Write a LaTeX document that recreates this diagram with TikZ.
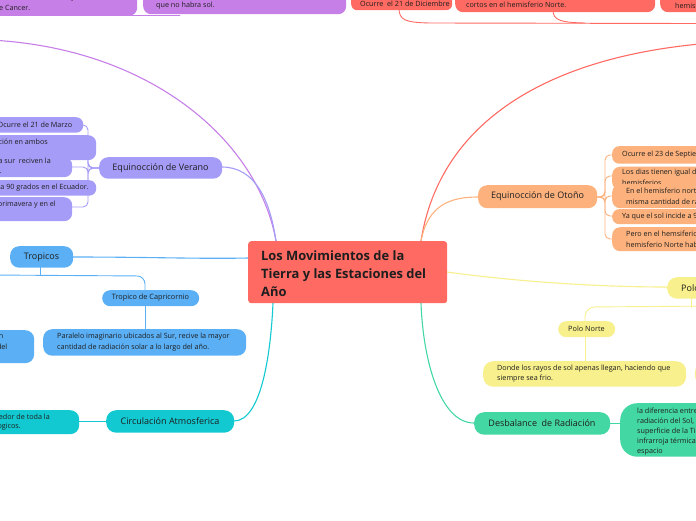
\documentclass[tikz,border=0pt]{standalone}
\usepackage{fontspec}
\setmainfont{Open Sans}
\definecolor{ink}{HTML}{1E1E1E}
\definecolor{cpurp}{HTML}{C77FE8}
\definecolor{clav}{HTML}{A59CF8}
\definecolor{cblue}{HTML}{5AAFF5}
\definecolor{cteal}{HTML}{12C9D1}
\definecolor{ccoral}{HTML}{FF6A62}
\definecolor{corange}{HTML}{FDB27D}
\definecolor{cyell}{HTML}{F7F08C}
\definecolor{cgreen}{HTML}{43D7A3}
\newcommand{\rbox}[7]{\node[fill=#2,rounded corners=#7,anchor=north west,inner sep=0pt,minimum width={(#5)-(#3)},minimum height={(#6)-(#4)}] (#1) at (#3,#4) {};}
\tikzset{
  txt/.style={inner sep=0pt,font=\fontsize{7.2}{8}\selectfont,text=ink,anchor=west},
  lbl/.style={inner sep=0pt,font=\fontsize{9}{10}\selectfont,text=ink},
  slbl/.style={inner sep=0pt,font=\fontsize{7.3}{8}\selectfont,text=ink},
  conn/.style={line width=1.1pt,line cap=round},
}
\begin{document}
\begin{tikzpicture}[x=1pt,y=-1pt]
\useasboundingbox (0,0) rectangle (696,520);
\clip (0,0) rectangle (696,520);
% ---------- connectors ----------
\coordinate (pl) at (-10,40);
\coordinate (ctop1) at (276,241);
\coordinate (ctop2) at (421,241);
\coordinate (cbot1) at (273,303);
\coordinate (cbot2) at (421,303);
\draw[conn,cpurp] (pl) .. controls (150,48) and (258,140) .. (ctop1);
\draw[conn,cpurp,line width=0.9pt] (-10,15.5) -- (180,15.5);
\draw[conn,clav] (222,167) .. controls (255,167) and (270,200) .. (ctop1);
\coordinate (rr) at (700,44);
\draw[conn,ccoral] (ctop2) .. controls (440,120) and (550,58) .. (rr);
\draw[conn,ccoral,line width=0.9pt] (399,8) .. controls (399,20) and (405,22.5) .. (430,23) -- (700,23.5);
\draw[conn,ccoral,line width=0.9pt] (553,10) .. controls (553,20) and (560,22.5) .. (585,23);
\draw[conn,corange] (ctop2) .. controls (428,205) and (450,197) .. (478,197);
\draw[conn,cblue] (73,257) .. controls (150,257) and (200,259) .. (248,258);
\draw[conn,cblue,line width=0.9pt] (40,267) -- (40,275);
\draw[conn,cblue,line width=0.9pt,rounded corners=8] (-10,275) -- (145,276) -- (145,291);
\draw[conn,cblue,line width=0.9pt] (145,306) -- (145,330);
\draw[conn,cteal] (234,421) .. controls (262,421) and (271,350) .. (cbot1);
\draw[conn,cteal,line width=0.9pt] (79,421) -- (106,421);
\draw[conn,cyell] (447,272) .. controls (520,282) and (600,287) .. (667,287);
\draw[conn,cyell,line width=0.9pt] (691,298) -- (691,307);
\draw[conn,cyell,line width=0.9pt,rounded corners=10] (720,306) -- (585,307) -- (585,322);
\draw[conn,cyell,line width=0.9pt] (585,337) -- (585,362);
\draw[conn,cgreen] (474,423) .. controls (440,423) and (423,360) .. (cbot2);
\draw[conn,cgreen,line width=0.9pt] (610,423) -- (621,423);
% Verano bracket
\foreach \yy/\xx in {125/83,144/96,167/72,188/96,207/72}{
  \draw[conn,clav,line width=0.9pt,rounded corners=5] (99,168) -- (88,168) -- (88,\yy) -- (\xx,\yy);
}
% Otono bracket
\foreach \yy in {155,176,196,216,239}{
  \draw[conn,corange,line width=0.9pt,rounded corners=5] (597,197) -- (605,197) -- (605,\yy) -- (613,\yy);
}
% ---------- purple top ----------
\rbox{pa}{cpurp}{-20}{-20}{137}{15.5}{8}
\node[txt,anchor=east] (pa1) at (107,-2) {donde se concentran todos los rayos del Sol};
\node[txt] (pa2) at (-5.5,8) {de Cancer.};
\rbox{pb}{cpurp}{143}{-20}{346}{14}{8}
\node[txt] (pb1) at (156,-5) {En el polo sur habra 6 meses de noche y}; 
\node[txt] (pb2) at (156,6) {que no habra sol.};
% ---------- coral top ----------
\rbox{ra}{ccoral}{351}{-20}{452}{10}{6}
\node[txt] (ra1) at (360,3.5) {Ocurre\ \ el 21 de Diciembre};
\rbox{rb}{ccoral}{455}{-20}{655}{12}{8}
\node[txt] (rb1) at (466,-6) {Los dias son mas largos y las noches mas};
\node[txt] (rb2) at (466,4.5) {cortos en el hemisferio Norte.};
\rbox{rc}{ccoral}{660}{-20}{740}{12}{8}
\node[txt] (rc1) at (675,5.5) {hemisferio Sur.};
% ---------- central ----------
\rbox{center}{ccoral}{248}{241}{447}{303}{3}
\node[inner sep=0pt,anchor=west,align=left,font=\fontsize{12.9}{18}\selectfont\bfseries,text=ink] (ctext) at (261,273.5) {Los Movimientos de la\\Tierra y las Estaciones del\\Año};
% ---------- Verano ----------
\rbox{ver}{clav}{99}{157}{222}{178.5}{9}
\node[lbl] (verl) at (160.5,168) {Equinocción de Verano};
\rbox{v1}{clav}{-20}{117}{83}{132.5}{7}
\node[txt] (v1t) at (-2.5,125) {Ocurre el 21 de Marzo};
\rbox{v2}{clav}{-20}{135}{96}{160}{8}
\node[txt,anchor=east] (v2t) at (48,143) {Igual radiación en ambos};
\rbox{v3}{clav}{-20}{157}{72}{177}{8}
\node[txt,anchor=east] (v3t) at (51,161.5) {la zona norte y la zona sur\ \ reciven la};
\node[txt,anchor=east] (v3u) at (2,171) {radiación.};
\rbox{v4}{clav}{-20}{180}{96}{195.5}{7}
\node[txt,anchor=east] (v4t) at (89,188) {Ya que el sol incide a 90 grados en el Ecuador.};
\rbox{v5}{clav}{-20}{197}{72}{221}{8}
\node[txt,anchor=east] (v5t) at (56,205) {En el hemisferio norte es primavera y en el};
% ---------- Tropicos ----------
\rbox{tro}{cblue}{10}{246}{73}{267.5}{9}
\node[lbl] (trol) at (41.5,257) {Tropicos};
\rbox{cap}{cblue}{102}{290}{199}{306}{8}
\node[slbl] (capl) at (150.5,298) {Tropico de Capricornio};
\rbox{capd}{cblue}{43}{329}{246}{355.5}{9}
\node[txt] (capd1) at (57,337) {Paralelo imaginario ubicados al Sur, recive la mayor};
\node[txt] (capd2) at (57,348) {cantidad de radiación solar a lo largo del año.};
\rbox{cand}{cblue}{-20}{330}{34}{363}{9}
\node[txt,anchor=east] (cand1) at (3.5,337) {Paralelo imaginario ubicado al Norte, recibe la mayor radiación};
\node[txt,anchor=east] (cand2) at (7.5,348) {cantidad de radiación solar a lo largo del};
% ---------- Circulacion ----------
\rbox{cir}{cteal}{106}{410}{234}{432.5}{10}
\node[lbl] (cirl) at (170,421) {Circulación Atmosferica};
\rbox{cird}{cteal}{-20}{410}{79}{434}{9}
\node[txt,anchor=east] (cird1) at (50,417) {Es el movimiento del aire alrededor de toda la};
\node[txt,anchor=east] (cird2) at (21,427) {Tierra y sus fenómenos meteorologicos.};
% ---------- Otono ----------
\rbox{oto}{corange}{478}{185}{597}{208}{9}
\node[lbl] (otol) at (537.5,196.5) {Equinocción de Otoño};
\rbox{o1}{corange}{612}{146}{740}{163.5}{7}
\node[txt] (o1t) at (622,155) {Ocurre el 23 de Septiembre};
\rbox{o2}{corange}{612}{166.5}{740}{190}{8}
\node[txt] (o2t) at (622,173) {Los dias tienen igual duración en ambos};
\node[txt] (o2u) at (622,183) {hemisferios};
\rbox{o3}{corange}{612}{184}{740}{208}{8}
\node[txt] (o3t) at (626,191.5) {En el hemisferio norte y sur reciben la};
\node[txt] (o3u) at (626,201.5) {misma cantidad de radiación.};
\rbox{o4}{corange}{612}{209}{740}{224}{7}
\node[txt] (o4t) at (622,216.5) {Ya que el sol incide a 90 grados en el Ecuador.};
\rbox{o5}{corange}{612}{227}{740}{251}{8}
\node[txt] (o5t) at (626,234.5) {Pero en el hemsiferio Sur es primavera y en el};
\node[txt] (o5u) at (626,244.5) {hemisferio Norte habrá otoño.};
% ---------- Polos ----------
\rbox{pol}{cyell}{667}{277}{740}{298.5}{10}
\node[lbl,anchor=west] (poll) at (681,288) {Polos};
\rbox{pn}{cyell}{558}{321}{615}{337}{8}
\node[slbl] (pnl) at (586.5,329) {Polo Norte};
\rbox{pnd}{cyell}{483}{361}{686}{386.5}{10}
\node[txt] (pnd1) at (497,369) {Donde los rayos de sol apenas llegan, haciendo que};
\node[txt] (pnd2) at (497,379) {siempre sea frio.};
\rbox{psd}{cyell}{695}{361}{800}{386.5}{10}
% ---------- Desbalance ----------
\rbox{des}{cgreen}{474}{412}{610}{434.5}{10}
\node[lbl] (desl) at (542,423) {Desbalance\ \ de Radiación};
\rbox{desd}{cgreen}{620}{403}{780}{456.5}{17}
\node[txt] (dd1) at (637,411.5) {la diferencia entre la energía};
\node[txt] (dd2) at (637,421.5) {radiación del Sol, absorbida por la};
\node[txt] (dd3) at (637,431.5) {superficie de la Tierra y la radiación};
\node[txt] (dd4) at (637,441.5) {infrarroja térmica emitida al};
\node[txt] (dd5) at (637,451.5) {espacio};
\end{tikzpicture}
\end{document}
